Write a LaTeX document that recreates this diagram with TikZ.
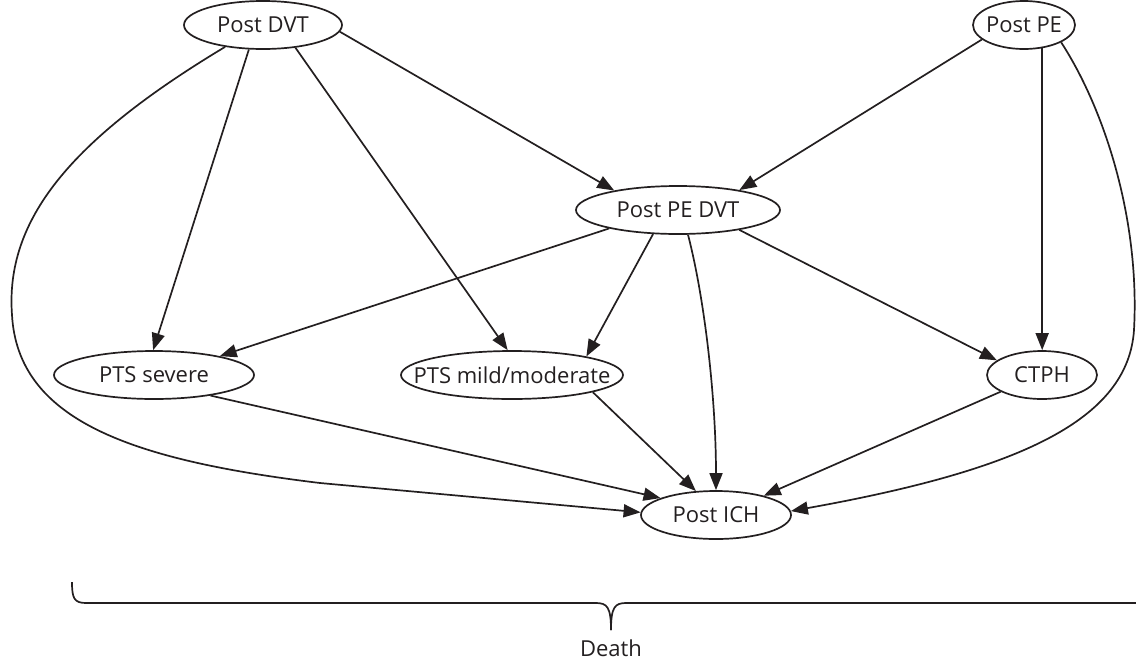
\documentclass[tikz,border=0pt]{standalone}
\usepackage{fontspec}
\setmainfont{Open Sans}
\usetikzlibrary{arrows.meta,shapes.geometric}
\definecolor{ink}{HTML}{231F20}
\begin{document}
\begin{tikzpicture}[x=1pt,y=-1pt,
  st/.style={ellipse,draw=ink,line width=1.7pt,inner sep=0pt,minimum height=48pt,text=ink,font=\fontsize{22}{25}\selectfont},
  arr/.style={draw=ink,line width=1.7pt,-{Triangle[length=17pt,width=13pt]}},
  brace/.style={draw=ink,line width=1.7pt},
  lab/.style={text=ink,font=\fontsize{22}{25}\selectfont,inner sep=0pt}]
\useasboundingbox (0,0) rectangle (1136,662);
\node[st,minimum width=158pt] (dvt) at (263,25) {\makebox[0pt]{Post DVT}};
\node[st,minimum width=102pt] (pe) at (1024,25) {\makebox[0pt]{Post PE}};
\node[st,minimum width=204pt] (pedvt) at (678,210) {\makebox[0pt]{Post PE DVT}};
\node[st,minimum width=200pt] (sev) at (154,375) {\makebox[0pt]{PTS severe}};
\node[st,minimum width=222pt] (mild) at (512,375) {\makebox[0pt]{PTS mild/moderate}};
\node[st,minimum width=110pt] (ctph) at (1042,375) {\makebox[0pt]{CTPH}};
\node[st,minimum width=150pt] (ich) at (716,515) {\makebox[0pt]{Post ICH}};
% straight connectors
\draw[arr] (dvt.-5) -- (pedvt.163);
\draw[arr] (dvt.-120) -- (sev.92);
\draw[arr] (dvt.-35) -- (mild.100);
\draw[arr] (pe.-161) -- (pedvt.18);
\draw[arr] (pe.-52) -- (pe.-52 |- ctph.north);
\draw[arr] (pedvt.-165) -- (sev.16);
\draw[arr] (pedvt.-136) -- (mild.14);
\draw[arr] (pedvt.-18) -- (ctph.162);
\draw[arr] (sev.-20) -- (ich.163);
\draw[arr] (mild.-12) -- (ich.130);
\draw[arr] (ctph.-158) -- (ich.22);
% curved connectors
\draw[arr] (pedvt.-68) .. controls (705,300) and (716,400) .. (ich.north);
\draw[arr] (dvt.-150) .. controls (70,140) and (5,220) .. (12,315)
  .. controls (18,420) and (130,460) .. (320,483) -- (ich.178);
\draw[arr] (pe.-25) .. controls (1105,110) and (1140,220) .. (1134,330)
  .. controls (1128,420) and (1020,470) .. (ich.3);
% brace
\coordinate (bl) at (72,582);
\coordinate (btip) at (611,630);
\coordinate (br) at (1136,603);
\draw[brace] (bl) .. controls (72,598) and (74,603) .. (86,603) -- (596,603)
  .. controls (607,603) and (611,607) .. (btip);
\draw[brace] (br) -- (626,603) .. controls (615,603) and (611,607) .. (btip);
\node[lab,anchor=base] (death) at (611,656) {Death};
\end{tikzpicture}
\end{document}
